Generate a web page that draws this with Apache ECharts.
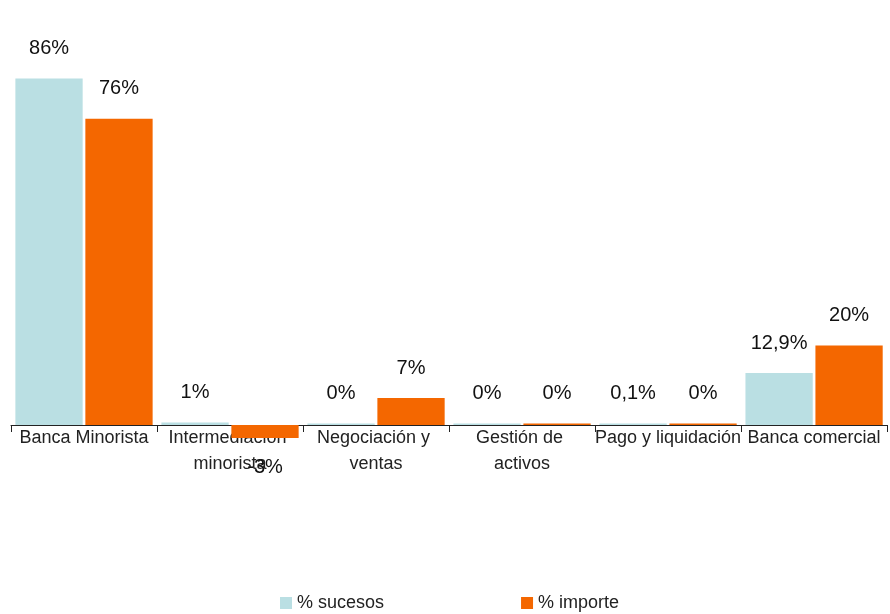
<!DOCTYPE html>
<html><head><meta charset="utf-8">
<script src="https://cdn.jsdelivr.net/npm/echarts@6/dist/echarts.min.js"></script>
<style>html,body{margin:0;padding:0;background:#fff}#c{width:890px;height:614px}</style>
</head><body><div id="c"></div>
<script>
var categories = ["Banca Minorista", "Intermediación minorista", "Negociación y ventas", "Gestión de activos", "Pago y liquidación", "Banca comercial"];
var sucesos = [86, 0.6, 0.4, 0.4, 0.4, 12.9];
var importe = [76, -3.2, 6.7, 0.4, 0.4, 19.7];
var sucesosLabels = ["86%", "1%", "0%", "0%", "0,1%", "12,9%"];
var importeLabels = ["76%", "-3%", "7%", "0%", "0%", "20%"];

function build(vals, labels) {
  return vals.map(function (v, i) {
    return { value: v, label: { formatter: labels[i], position: v < 0 ? 'bottom' : 'top' } };
  });
}
// the source wraps only where the text is wider than a category slot
var catData = categories.map(function (c, i) {
  return { value: c, textStyle: { width: i === 4 ? 160 : 146 } };
});
var chart = echarts.init(document.getElementById('c'));
var lbl = { show: true, distance: 20, fontSize: 20, color: '#111', fontFamily: 'Liberation Sans, Arial, sans-serif' };
chart.setOption({
  animation: false,
  textStyle: { fontFamily: 'Liberation Sans, Arial, sans-serif' },
  grid: { left: 11, right: 2, top: 22, bottom: 189 },
  legend: {
    bottom: 2, left: 280, padding: 0, itemGap: 137, itemWidth: 12, itemHeight: 12, icon: 'rect',
    textStyle: { fontSize: 18, color: '#222' },
    data: ['% sucesos', '% importe']
  },
  xAxis: {
    type: 'category', data: catData,
    axisLine: { lineStyle: { color: '#222', width: 1 } },
    axisTick: { show: true, length: 7, lineStyle: { color: '#222' } },
    axisLabel: { interval: 0, width: 146, overflow: 'break', fontSize: 18, color: '#222', lineHeight: 26, margin: 0, verticalAlign: 'top' }
  },
  yAxis: { type: 'value', min: 0, max: 100, show: false, splitLine: { show: false } },
  series: [
    { name: '% sucesos', type: 'bar', clip: false, z: 1, barGap: '4%', barCategoryGap: '6%', itemStyle: { color: '#BADFE3' }, label: lbl, data: build(sucesos, sucesosLabels) },
    { name: '% importe', type: 'bar', clip: false, z: 1, itemStyle: { color: '#F46700' }, label: lbl, data: build(importe, importeLabels) }
  ]
});
</script></body></html>
